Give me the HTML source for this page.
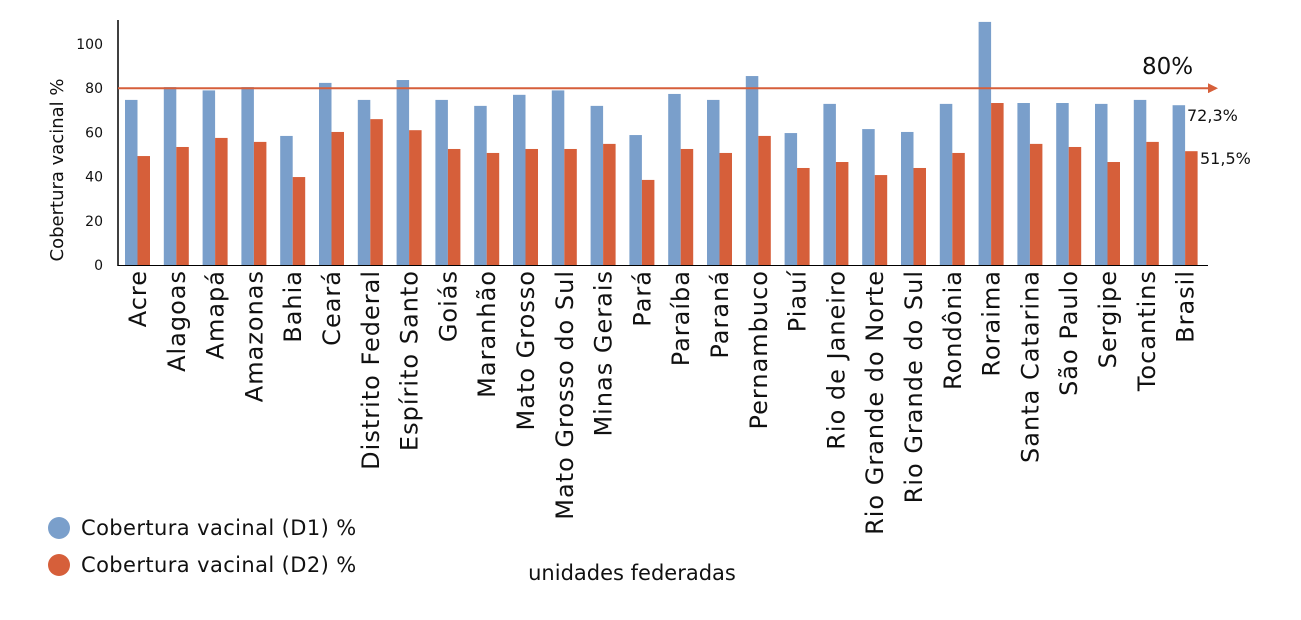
<!DOCTYPE html>
<html><head><meta charset="utf-8"><style>
body{margin:0;background:#fff}
svg{font-family:"DejaVu Sans","Liberation Sans",sans-serif}
</style></head><body>
<svg id="chart" width="1301" height="615" xmlns="http://www.w3.org/2000/svg">
<defs><marker id="arr" markerWidth="10" markerHeight="10" refX="8" refY="5" orient="auto" markerUnits="userSpaceOnUse"><path d="M0,0 L10,5 L0,10 z" fill="#d65f3a"/></marker>
<clipPath id="clip"><rect x="118" y="20" width="1100" height="246"/></clipPath></defs>
<g id="bars" clip-path="url(#clip)"></g>
<g id="axes"></g>
</svg>
<script>
const categories=["Acre","Alagoas","Amapá","Amazonas","Bahia","Ceará","Distrito Federal","Espírito Santo","Goiás","Maranhão","Mato Grosso","Mato Grosso do Sul","Minas Gerais","Pará","Paraíba","Paraná","Pernambuco","Piauí","Rio de Janeiro","Rio Grande do Norte","Rio Grande do Sul","Rondônia","Roraima","Santa Catarina","São Paulo","Sergipe","Tocantins","Brasil"];
const d1=[74.7,80.5,79,80.5,58.4,82.4,74.7,83.7,74.7,72,77,79,72,58.8,77.4,74.7,85.5,59.7,72.9,61.5,60.2,72.9,110,73.3,73.3,72.9,74.7,72.3];
const d2=[49.3,53.4,57.5,55.7,39.8,60.2,66,61,52.5,50.7,52.5,52.5,54.8,38.5,52.5,50.7,58.4,43.9,46.6,40.7,43.9,50.7,73.3,54.8,53.4,46.6,55.7,51.5];
const yTicks=[0,20,40,60,80,100];
const target=80;
const NS="http://www.w3.org/2000/svg";
const x0=118,step=38.8,y0=265,k=2.21,bw=12.5;
const X=i=>x0+i*step;
const Y=v=>y0-v*k;
function mk(t,a,p){const e=document.createElementNS(NS,t);for(const n in a)e.setAttribute(n,a[n]);(p||document.getElementById('axes')).appendChild(e);return e;}
const bars=document.getElementById('bars');
categories.forEach((c,i)=>{
 const b1=mk('rect',{x:X(i)+7,y:Y(d1[i]),width:bw,height:d1[i]*k,fill:'#7a9fcb'},bars);
 
 
 const b2=mk('rect',{x:X(i)+7+bw,y:Y(d2[i]),width:bw,height:d2[i]*k,fill:'#d65f3a'},bars);
 
 
 const t=mk('text',{x:0,y:0,'font-size':24,'letter-spacing':1,'text-anchor':'end',fill:'#111',transform:`translate(${X(i)+28},270) rotate(-90)`});
 t.textContent=c;
 
 
});
const ax=mk('line',{x1:118,y1:20,x2:118,y2:266,stroke:'#000','stroke-width':1.5});


const bx=mk('line',{x1:118,y1:265.5,x2:1208,y2:265.5,stroke:'#000','stroke-width':1});


yTicks.forEach(v=>{
 const t=mk('text',{x:103,y:Y(v)+5,'font-size':14,'text-anchor':'end',fill:'#111'});
 t.textContent=v;
 
 
});
const tl=mk('line',{x1:118,y1:Y(target),x2:1216,y2:Y(target),stroke:'#d65f3a','stroke-width':2,'marker-end':'url(#arr)'});


const tt=mk('text',{x:1142,y:Y(target)-14,'font-size':23,fill:'#111'});
tt.textContent=target+'%';


const last=categories.length-1;
const l1=mk('text',{x:1187,y:Y(d1[last])+16,'font-size':16,fill:'#111'});
l1.textContent=String(d1[last]).replace('.',',')+'%';


const l2=mk('text',{x:1200,y:Y(d2[last])+13,'font-size':16,fill:'#111'});
l2.textContent=String(d2[last]).replace('.',',')+'%';


const yt=mk('text',{x:0,y:0,'font-size':18,'text-anchor':'middle',fill:'#111',transform:'translate(63,170) rotate(-90)'});
yt.textContent='Cobertura vacinal %';


const xt=mk('text',{x:632,y:580,'font-size':21,'text-anchor':'middle',fill:'#111'});
xt.textContent='unidades federadas';


[['Cobertura vacinal (D1) %','#7a9fcb',528],['Cobertura vacinal (D2) %','#d65f3a',565]].forEach((l,i)=>{
 const c=mk('circle',{cx:59,cy:l[2],r:11,fill:l[1]});
 
 
 const t=mk('text',{x:81,y:l[2]+7,'font-size':21,'letter-spacing':0.4,fill:'#111'});
 t.textContent=l[0];
 
 
});
</script>
</body></html>
